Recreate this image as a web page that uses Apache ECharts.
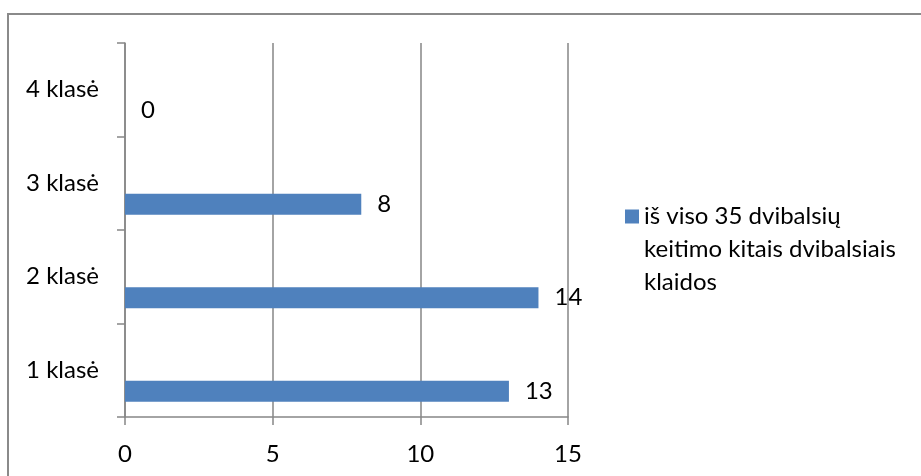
<!DOCTYPE html>
<html>
<head>
<meta charset="utf-8">
<script src="https://cdn.jsdelivr.net/npm/echarts@6/dist/echarts.min.js"></script>
<style>html,body{margin:0;padding:0;background:#fff;}#c{width:921px;height:476px;}</style>
</head>
<body>
<div id="c"></div>
<script>
var categories = ['1 klasė', '2 klasė', '3 klasė', '4 klasė'];
var seriesName = 'iš viso 35 dvibalsių keitimo kitais dvibalsiais klaidos';
var values = [13, 14, 8, 0];
var xTicks = [0, 5, 10, 15];

var FONT = 'Lato';
var chart = echarts.init(document.getElementById('c'));
chart.setOption({
  animation: false,
  backgroundColor: '#fff',
  textStyle: { fontFamily: FONT },
  graphic: [{
    type: 'rect', silent: true, z: -1,
    shape: { x: 8, y: 14, width: 1000, height: 1000 },
    style: { fill: 'none', stroke: '#8a8a8a', lineWidth: 2 }
  }],
  grid: { left: 125, right: 353, top: 43, bottom: 59, containLabel: false },
  legend: {
    left: 625, top: 134, padding: 0,
    data: [seriesName],
    icon: 'rect', itemWidth: 14, itemHeight: 14,
    formatter: function () { return '\n\niš viso 35 dvibalsių\nkeitimo kitais dvibalsiais\nklaidos'; },
    textStyle: { fontFamily: FONT, fontSize: 24, color: '#000', lineHeight: 33 }
  },
  xAxis: {
    type: 'value', min: xTicks[0], max: xTicks[xTicks.length - 1], interval: 5,
    axisLine: { show: true, lineStyle: { color: '#868686', width: 1.5 } },
    axisTick: { show: true, length: 8, lineStyle: { color: '#868686', width: 1.5 } },
    splitLine: { show: true, lineStyle: { color: '#868686', width: 1.5 } },
    axisLabel: { margin: 25, fontFamily: FONT, fontSize: 24, color: '#000' }
  },
  yAxis: {
    type: 'category', data: categories,
    axisLine: { show: true, lineStyle: { color: '#868686', width: 1.5 } },
    axisTick: { show: true, length: 8, alignWithLabel: false, lineStyle: { color: '#868686', width: 1.5 } },
    splitLine: { show: false },
    axisLabel: { margin: 26, fontFamily: FONT, fontSize: 24, color: '#000' }
  },
  series: [
    {
      name: 'placeholder', type: 'bar', barWidth: 21, barGap: '100%',
      data: categories.map(function () { return '-'; }), silent: true
    },
    {
      name: seriesName, type: 'bar', barWidth: 21, barGap: '100%',
      data: values,
      itemStyle: { color: '#4F81BD' },
      label: { show: true, position: 'right', distance: 16, fontFamily: FONT, fontSize: 24, color: '#000' }
    }
  ]
});
</script>
</body>
</html>
